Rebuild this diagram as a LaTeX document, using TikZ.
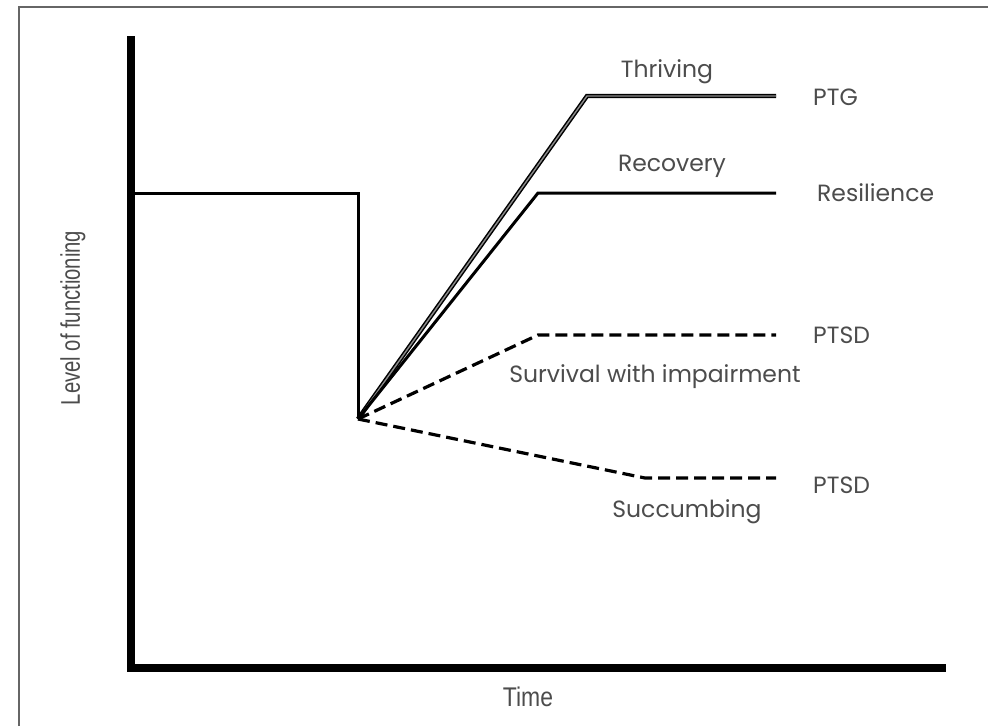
\documentclass[tikz,border=0pt]{standalone}
\usepackage{fontspec}
\setmainfont{Poppins}
\newfontfamily\axisfont{Liberation Sans}
\begin{document}
\begin{tikzpicture}[x=1pt,y=-1pt,
  lbl/.style={text=black!70, font=\fontsize{23.5}{26}\selectfont, inner sep=0pt},
  axlbl/.style={text=black!70, font=\axisfont\fontsize{27}{30}\selectfont, inner sep=0pt},
  axisline/.style={line width=8pt, line cap=rect},
  solidline/.style={line width=3pt, line join=miter},
  dashline/.style={line width=3.2pt, dash pattern=on 12pt off 6pt},
  thrive/.style={line width=1.5pt, double=black!45, double distance=1.4pt}
]
\useasboundingbox (0,0) rectangle (988,726);
\fill[white] (0,0) rectangle (988,726);
% frame
\draw[black!60, line width=2pt] (19,726) -- (19,7) -- (988,7);
% axes
\coordinate (ytop) at (131,40);
\coordinate (orig) at (131,668);
\coordinate (xend) at (942,668);
\draw[axisline] (ytop) -- (orig) -- (xend);
% baseline and drop
\coordinate (b0) at (133,193);
\coordinate (b1) at (358,193);
\coordinate (dip) at (358,419);
\draw[solidline] (b0) -- (b1) -- (dip);
% thriving
\coordinate (t1) at (587,96);
\coordinate (t2) at (776,96);
\draw[thrive] (dip) -- (t1) -- (t2);
% recovery
\coordinate (r1) at (538,193);
\coordinate (r2) at (776,193);
\draw[solidline] (dip) -- (r1) -- (r2);
% survival
\coordinate (s1) at (538,335);
\coordinate (s2) at (776,335);
\draw[dashline] (dip) -- (s1) -- (s2);
% succumbing
\coordinate (c1) at (645,478);
\coordinate (c2) at (776,478);
\draw[dashline] (dip) -- (c1) -- (c2);
% labels
\node[lbl] (thr) at (667,72) {Thriving};
\node[lbl] (rec) at (672,166) {Recovery};
\node[lbl] (sur) at (655,377) {Survival with impairment};
\node[lbl] (suc) at (687,512) {Succumbing};
\node[lbl, anchor=west] (ptg) at (813,97) {PTG};
\node[lbl, anchor=west] (res) at (817,193) {Resilience};
\node[lbl, anchor=west] (ptsd1) at (813,335) {PTSD};
\node[lbl, anchor=west] (ptsd2) at (813,485) {PTSD};
\node[axlbl] (time) at (528,697) {\scalebox{0.85}[1]{Time}};
\node[axlbl, rotate=90] (lof) at (73,318) {\scalebox{0.75}[1]{Level of functioning}};
\end{tikzpicture}
\end{document}
